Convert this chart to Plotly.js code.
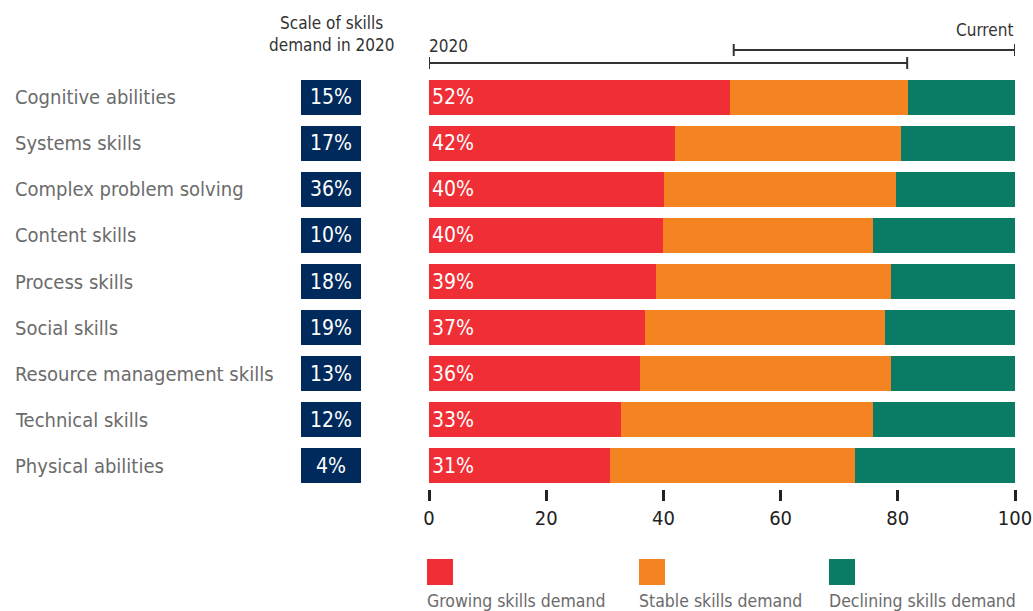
<!DOCTYPE html>
<html>
<head>
<meta charset="utf-8">
<script src="https://cdn.plot.ly/plotly-3.0.1.min.js"></script>
<style>html,body{margin:0;padding:0;background:#fff;}#chart{width:1033px;height:611px;}</style>
</head>
<body>
<div id="chart"></div>
<script>
const categories = ["Cognitive abilities","Systems skills","Complex problem solving","Content skills","Process skills","Social skills","Resource management skills","Technical skills","Physical abilities"];
const scale2020 = [15, 17, 36, 10, 18, 19, 13, 12, 4];
const growingLabels = [52, 42, 40, 40, 39, 37, 36, 33, 31];
const growing = [51.4, 42.0, 40.1, 39.9, 38.7, 36.9, 36.0, 32.8, 30.9];
const stable = [30.3, 38.5, 39.6, 35.9, 40.1, 40.9, 42.8, 43.0, 41.8];
const declining = [18.3, 19.5, 20.3, 24.2, 21.2, 22.2, 21.2, 24.2, 27.3];
const seriesNames = ["Growing skills demand","Stable skills demand","Declining skills demand"];
const colors = ["#EF2E36","#F38421","#0A7B65"];
const navy = "#002A5C";
const xTicks = [0, 20, 40, 60, 80, 100];
const bracket2020 = [0, 81.6];
const bracketCurrent = [52, 100];

const W = 1033, H = 611;
const FONT = "'DejaVu Sans Condensed', 'Noto Sans', sans-serif";
const px = x => x / W;
const py = y => 1 - y / H;
const bw = 0.76;

const traces = [
  {type:'bar', orientation:'h', y:categories, x:growing, name:seriesNames[0], marker:{color:colors[0]}, width:bw,
   text:growingLabels.map(v=>v+'%'), texttemplate:'%{text}', textposition:'inside', insidetextanchor:'start',
   textfont:{color:'#fff', size:21, family:FONT}, hoverinfo:'x+y'},
  {type:'bar', orientation:'h', y:categories, x:stable, name:seriesNames[1], marker:{color:colors[1]}, width:bw, hoverinfo:'x+y'},
  {type:'bar', orientation:'h', y:categories, x:declining, name:seriesNames[2], marker:{color:colors[2]}, width:bw, hoverinfo:'x+y'},
  {type:'bar', orientation:'h', y:categories, x:scale2020.map(()=>1), xaxis:'x2', yaxis:'y', marker:{color:navy}, width:bw,
   text:scale2020.map(v=>v+'%'), texttemplate:'%{text}', textposition:'inside', insidetextanchor:'middle',
   textfont:{color:'#fff', size:21, family:FONT}, hoverinfo:'text', showlegend:false}
];

const annotations = [];
categories.forEach((c,i)=>{
  annotations.push({xref:'paper', yref:'y', x:px(15), y:c, xanchor:'left', yanchor:'middle', xshift:-2, text:c, showarrow:false,
    font:{family:FONT, size:20, color:'#6b6b6b'}});
});
annotations.push({xref:'paper', yref:'paper', x:px(331), y:py(11), xanchor:'center', yanchor:'top',
  text:'Scale of skills<br>demand in 2020', showarrow:false, align:'center', font:{family:FONT, size:17, color:'#333'}});
annotations.push({xref:'x', yref:'paper', x:0, y:py(34), xanchor:'left', yanchor:'top', xshift:-2,
  text:'2020', showarrow:false, font:{family:FONT, size:17, color:'#333'}});
annotations.push({xref:'x', yref:'paper', x:100, y:py(18), xanchor:'right', yanchor:'top',
  text:'Current', showarrow:false, font:{family:FONT, size:17, color:'#333'}});

const legendX = [427, 639, 829];
seriesNames.forEach((n,i)=>{
  annotations.push({xref:'paper', yref:'paper', x:px(legendX[i]), y:py(589), xanchor:'left', yanchor:'top',
    text:n, showarrow:false, xshift:-2, font:{family:FONT, size:17.5, color:'#6b6b6b'}});
});

const shapes = [];
const lineStyle = {color:'#333', width:2};
function bracket(range, yPix){
  shapes.push({type:'line', xref:'x', yref:'paper', x0:range[0], x1:range[1], y0:py(yPix), y1:py(yPix), line:lineStyle});
  shapes.push({type:'line', xref:'x', yref:'paper', x0:range[0], x1:range[0], y0:py(yPix-6), y1:py(yPix+6), line:lineStyle});
  shapes.push({type:'line', xref:'x', yref:'paper', x0:range[1], x1:range[1], y0:py(yPix-6), y1:py(yPix+6), line:lineStyle});
}
bracket(bracket2020, 63);
bracket(bracketCurrent, 50);
seriesNames.forEach((n,i)=>{
  shapes.push({type:'rect', xref:'paper', yref:'paper', x0:px(legendX[i]), x1:px(legendX[i]+26), y0:py(559), y1:py(585),
    fillcolor:colors[i], line:{width:0}});
});

const layout = {
  width:W, height:H, margin:{l:0, r:0, t:0, b:0}, paper_bgcolor:'#fff', plot_bgcolor:'#fff',
  barmode:'stack', showlegend:false, bargap:0.24,
  font:{family:FONT},
  xaxis:{domain:[px(429), px(1015)], range:[0,100], tickvals:xTicks, ticks:'outside', ticklen:11, tickwidth:3, tickcolor:'#222',
    showgrid:false, zeroline:false, showline:false, tickfont:{family:FONT, size:20, color:'#222'}, fixedrange:true},
  xaxis2:{domain:[px(301), px(361)], range:[0,1], visible:false, anchor:'y', fixedrange:true},
  yaxis:{domain:[py(489), py(74)], type:'category', autorange:'reversed', showticklabels:false, ticks:'', showgrid:false,
    zeroline:false, showline:false, fixedrange:true},
  annotations, shapes
};
Plotly.newPlot('chart', traces, layout, {displayModeBar:false, staticPlot:true});
</script>
</body>
</html>
